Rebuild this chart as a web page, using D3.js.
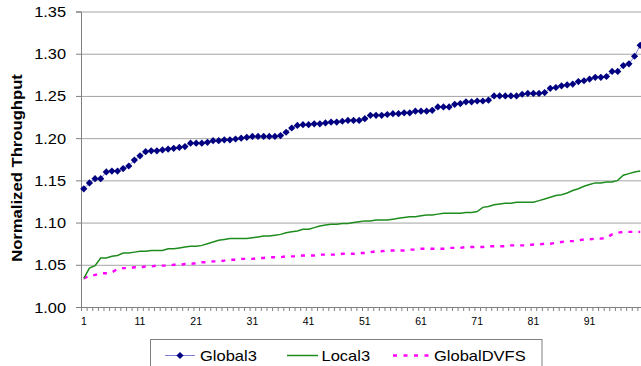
<!DOCTYPE html>
<html>
<head>
<meta charset="utf-8">
<script src="https://cdn.jsdelivr.net/npm/d3@7"></script>
<style>
  html, body { margin: 0; padding: 0; background: #fff; }
  svg { display: block; font-family: "Liberation Sans", Arial, sans-serif; }
</style>
</head>
<body>
<svg id="chart" width="641" height="366"></svg>
<script>
// Benchmark index (sorted runs) and the labelled x positions
const categories = d3.range(1, 101);
const xTickLabels = [1, 11, 21, 31, 41, 51, 61, 71, 81, 91];
const yTickValues = [1.00, 1.05, 1.10, 1.15, 1.20, 1.25, 1.30, 1.35];
const seriesNames = ["Global3", "Local3", "GlobalDVFS"];

// Normalized throughput per run
const global3 = [
  1.140, 1.147, 1.152, 1.152, 1.160, 1.161, 1.161, 1.164, 1.167, 1.174,
  1.179, 1.184, 1.185, 1.185, 1.186, 1.187, 1.188, 1.189, 1.190, 1.194,
  1.194, 1.194, 1.195, 1.197, 1.197, 1.198, 1.198, 1.199, 1.200, 1.201,
  1.202, 1.202, 1.202, 1.202, 1.202, 1.203, 1.207, 1.212, 1.215, 1.216,
  1.216, 1.217, 1.217, 1.218, 1.219, 1.219, 1.220, 1.221, 1.221, 1.221,
  1.223, 1.227, 1.227, 1.227, 1.228, 1.229, 1.229, 1.230, 1.230, 1.232,
  1.232, 1.232, 1.233, 1.237, 1.237, 1.237, 1.240, 1.241, 1.243, 1.243,
  1.244, 1.244, 1.245, 1.250, 1.250, 1.250, 1.250, 1.250, 1.252, 1.253,
  1.253, 1.253, 1.254, 1.259, 1.260, 1.262, 1.263, 1.264, 1.267, 1.268,
  1.270, 1.272, 1.272, 1.273, 1.279, 1.279, 1.286, 1.288, 1.297, 1.310
];
const local3 = [
  1.034, 1.046, 1.049, 1.058, 1.058, 1.060, 1.061, 1.064, 1.064, 1.065,
  1.066, 1.066, 1.067, 1.067, 1.067, 1.069, 1.069, 1.070, 1.071, 1.072,
  1.072, 1.073, 1.075, 1.077, 1.079, 1.080, 1.081, 1.081, 1.081, 1.081,
  1.082, 1.083, 1.084, 1.084, 1.085, 1.086, 1.088, 1.089, 1.090, 1.092,
  1.092, 1.094, 1.096, 1.097, 1.098, 1.098, 1.099, 1.099, 1.100, 1.101,
  1.102, 1.102, 1.103, 1.103, 1.103, 1.104, 1.105, 1.106, 1.107, 1.107,
  1.108, 1.109, 1.109, 1.110, 1.111, 1.111, 1.111, 1.111, 1.112, 1.112,
  1.113, 1.118, 1.119, 1.121, 1.122, 1.123, 1.123, 1.124, 1.124, 1.124,
  1.124, 1.126, 1.128, 1.130, 1.132, 1.133, 1.135, 1.138, 1.140, 1.143,
  1.145, 1.147, 1.147, 1.148, 1.148, 1.150, 1.156, 1.158, 1.160, 1.161
];
const globalDVFS = [
  1.034, 1.037, 1.038, 1.040, 1.040, 1.041, 1.045, 1.046, 1.046, 1.047,
  1.047, 1.048, 1.048, 1.049, 1.049, 1.049, 1.050, 1.050, 1.051, 1.051,
  1.052, 1.053, 1.053, 1.054, 1.054, 1.055, 1.056, 1.056, 1.057, 1.057,
  1.057, 1.058, 1.058, 1.059, 1.059, 1.059, 1.060, 1.060, 1.060, 1.061,
  1.061, 1.061, 1.062, 1.062, 1.062, 1.062, 1.063, 1.063, 1.063, 1.064,
  1.064, 1.065, 1.066, 1.066, 1.067, 1.067, 1.067, 1.067, 1.068, 1.068,
  1.069, 1.069, 1.069, 1.069, 1.069, 1.070, 1.070, 1.070, 1.071, 1.071,
  1.071, 1.071, 1.072, 1.072, 1.072, 1.072, 1.073, 1.073, 1.073, 1.073,
  1.074, 1.074, 1.075, 1.075, 1.076, 1.077, 1.078, 1.078, 1.079, 1.080,
  1.080, 1.081, 1.081, 1.082, 1.086, 1.088, 1.089, 1.089, 1.089, 1.089
];

const svg = d3.select("#chart");
const plot = { left: 81, right: 643, top: 11.5, bottom: 307 };

const x = d3.scaleBand().domain(categories).range([plot.left, plot.right]);
const xEdges = d3.scaleLinear().domain([0, categories.length]).range([plot.left, plot.right]);
const y = d3.scaleLinear().domain([1.00, 1.35]).range([plot.bottom, plot.top]);
const cx = d => x(d) + x.bandwidth() / 2;

const AXIS = "#808080";

// Widen glyphs by factor k (text drawn a little broader than the stock face)
function stretch(sel, k) {
  sel.each(function () {
    const w = this.getComputedTextLength();
    d3.select(this).attr("textLength", w * k).attr("lengthAdjust", "spacingAndGlyphs");
  });
}

// Horizontal gridlines
svg.append("g")
  .attr("transform", `translate(${plot.left},0)`)
  .call(d3.axisLeft(y).tickValues(yTickValues.slice(1)).tickSize(-(plot.right - plot.left)).tickFormat(""))
  .call(g => g.select(".domain").remove())
  .call(g => g.selectAll(".tick line").attr("stroke", "#a4a4a4").attr("stroke-width", 1));

// Y axis
const yAxis = svg.append("g")
  .attr("transform", `translate(${plot.left},0)`)
  .call(d3.axisLeft(y).tickValues(yTickValues).tickSize(5).tickPadding(10).tickFormat(d3.format(".2f")));
yAxis.select(".domain").attr("stroke", AXIS);
yAxis.selectAll(".tick line").attr("stroke", AXIS);
yAxis.selectAll(".tick text")
  .attr("fill", "#000").attr("font-size", 14).attr("font-family", null).attr("dy", "0.36em")
  .call(stretch, 1.17);

// X axis: tick marks on category boundaries
const xAxis = svg.append("g")
  .attr("transform", `translate(0,${plot.bottom})`)
  .call(d3.axisBottom(xEdges).tickValues(d3.range(0, categories.length + 1)).tickSize(4).tickFormat(""));
xAxis.select(".domain").attr("stroke", AXIS);
xAxis.selectAll(".tick line").attr("stroke", AXIS);

// X labels centred on categories
const xLab = svg.append("g")
  .attr("transform", `translate(0,${plot.bottom})`)
  .call(d3.axisBottom(x).tickValues(xTickLabels).tickSize(0).tickPadding(11));
xLab.select(".domain").remove();
xLab.selectAll(".tick text").attr("fill", "#000").attr("font-size", 10.5).attr("font-family", null);

// Y axis title
svg.append("text")
  .attr("transform", "translate(22,168) rotate(-90)")
  .attr("text-anchor", "middle")
  .attr("font-size", 15).attr("font-weight", "bold")
  .text("Normalized Throughput")
  .call(stretch, 1.11);

// Series
const line = d3.line().x((v, i) => cx(categories[i])).y(v => y(v));

svg.append("path").datum(globalDVFS)
  .attr("d", line).attr("fill", "none")
  .attr("stroke", "#ff00ff").attr("stroke-width", 2.4).attr("stroke-dasharray", "4,6");

svg.append("path").datum(local3)
  .attr("d", line).attr("fill", "none")
  .attr("stroke", "#1e8c1e").attr("stroke-width", 1.5);

svg.append("path").datum(global3)
  .attr("d", line).attr("fill", "none")
  .attr("stroke", "#8080d8").attr("stroke-width", 1);

const diamond = d3.symbol().type(d3.symbolSquare).size(26);
svg.append("g").selectAll("path")
  .data(global3)
  .join("path")
  .attr("d", diamond)
  .attr("transform", (v, i) => `translate(${cx(categories[i])},${y(v)}) rotate(45)`)
  .attr("fill", "#000080");

// Legend
const legend = svg.append("g");
legend.append("rect")
  .attr("x", 150.5).attr("y", 339.5).attr("width", 391.5).attr("height", 40)
  .attr("fill", "#fff").attr("stroke", AXIS);

const ly = 355.5;
const items = [
  { name: seriesNames[0], x0: 165, x1: 195, tx: 200, stroke: "#8080d8", width: 1, dash: null, marker: true },
  { name: seriesNames[1], x0: 287, x1: 318, tx: 321.5, stroke: "#1e8c1e", width: 1.5, dash: null, marker: false },
  { name: seriesNames[2], x0: 393, x1: 429, tx: 434, stroke: "#ff00ff", width: 2.4, dash: "4,6.5", marker: false }
];
items.forEach(it => {
  legend.append("line")
    .attr("x1", it.x0).attr("x2", it.x1).attr("y1", ly).attr("y2", ly)
    .attr("stroke", it.stroke).attr("stroke-width", it.width)
    .attr("stroke-dasharray", it.dash);
  if (it.marker) {
    legend.append("path").attr("d", diamond)
      .attr("transform", `translate(${(it.x0 + it.x1) / 2},${ly}) rotate(45)`)
      .attr("fill", "#000080");
  }
  legend.append("text")
    .attr("x", it.tx).attr("y", 360.8)
    .attr("font-size", 15).attr("fill", "#000")
    .text(it.name)
    .call(stretch, 1.1);
});
</script>
</body>
</html>
